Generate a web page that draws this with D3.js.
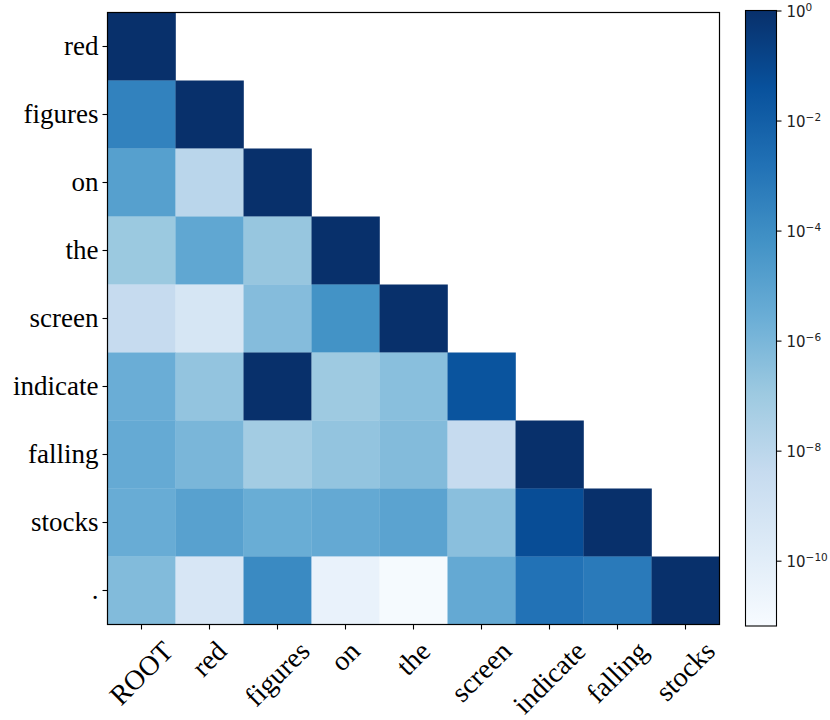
<!DOCTYPE html>
<html>
<head>
<meta charset="utf-8">
<script src="https://cdn.jsdelivr.net/npm/d3@7"></script>
<style>
  body { margin: 0; background: #fff; }
  svg { display: block; }
</style>
</head>
<body>
<div id="chart"></div>
<script>
// words on each axis
var rowLabels = ['red', 'figures', 'on', 'the', 'screen', 'indicate', 'falling', 'stocks', '.'];
var colLabels = ['ROOT', 'red', 'figures', 'on', 'the', 'screen', 'indicate', 'falling', 'stocks'];

// one array per row (lower triangle)
var rowRed      = [0.98];
var rowFigures  = [3.0e-4, 0.98];
var rowOn       = [1.3e-5, 1.1e-8, 0.98];
var rowThe      = [1.2e-7, 6.0e-6, 1.6e-7, 0.98];
var rowScreen   = [4.1e-9, 4.8e-10, 4.9e-7, 5.9e-5, 0.98];
var rowIndicate = [2.8e-6, 2.0e-7, 0.98, 1.0e-7, 3.8e-7, 3.0e-2];
var rowFalling  = [4.1e-6, 1.0e-6, 6.8e-8, 2.1e-7, 5.6e-7, 4.1e-9, 0.98];
var rowStocks   = [3.2e-6, 1.1e-5, 3.0e-6, 4.4e-6, 8.9e-6, 3.5e-7, 5.9e-2, 0.98];
var rowPeriod   = [5.9e-7, 4.2e-10, 1.4e-4, 3.9e-11, 8.3e-12, 4.4e-6, 1.4e-3, 6.6e-4, 0.98];

var cbTicks = [1, 1e-2, 1e-4, 1e-6, 1e-8, 1e-10];
var vmin = 6.5e-12, vmax = 1;

var rows = [rowRed, rowFigures, rowOn, rowThe, rowScreen, rowIndicate, rowFalling, rowStocks, rowPeriod];
var cells = [];
rows.forEach(function(r, i) {
  r.forEach(function(v, j) { cells.push({ row: i, col: j, value: v }); });
});

// matplotlib "Blues"
var blues = ['#f7fbff', '#deebf7', '#c6dbef', '#9ecae1', '#6baed6', '#4292c6', '#2171b5', '#08519c', '#08306b'];
var tScale = d3.scaleLog().domain([vmin, vmax]).range([0, 1]).clamp(true);
var cmap = d3.scaleLinear()
  .domain(blues.map(function(d, i) { return i / 8; }))
  .range(blues)
  .interpolate(d3.interpolateRgb);
function colour(v) { return cmap(tScale(v)); }

var W = 830, H = 720;
var plotLeft = 107.5, plotTop = 12.5, plotSize = 612;

var svg = d3.select('#chart').append('svg')
  .attr('width', W)
  .attr('height', H);

var x = d3.scaleBand().domain(d3.range(colLabels.length)).range([plotLeft, plotLeft + plotSize]);
var y = d3.scaleBand().domain(d3.range(rowLabels.length)).range([plotTop, plotTop + plotSize]);

svg.append('g')
  .selectAll('rect')
  .data(cells)
  .enter().append('rect')
    .attr('x', function(d) { return x(d.col); })
    .attr('y', function(d) { return y(d.row); })
    .attr('width', x.bandwidth() + 0.3)
    .attr('height', y.bandwidth() + 0.3)
    .style('fill', function(d) { return colour(d.value); });

// frame
svg.append('rect')
  .attr('x', plotLeft).attr('y', plotTop)
  .attr('width', plotSize).attr('height', plotSize)
  .style('fill', 'none')
  .style('stroke', '#000')
  .style('stroke-width', 1.2);

// y axis
var yAxis = svg.append('g')
  .attr('transform', 'translate(' + plotLeft + ',0)')
  .call(d3.axisLeft(y).tickSize(5).tickPadding(4).tickFormat(function(i) { return rowLabels[i]; }));
yAxis.select('.domain').remove();
yAxis.selectAll('text')
  .style('font-family', 'Liberation Serif, Times New Roman, serif')
  .style('font-size', '27px')
  .style('fill', '#000')
  .attr('dy', '0.32em');
yAxis.selectAll('line').style('stroke', '#000').style('stroke-width', 1.1);

// x axis with 45 degree labels centred on the ticks
var xAxis = svg.append('g')
  .attr('transform', 'translate(0,' + (plotTop + plotSize) + ')')
  .call(d3.axisBottom(x).tickSize(5).tickFormat(''));
xAxis.select('.domain').remove();
xAxis.selectAll('line').style('stroke', '#000').style('stroke-width', 1.1);

var labelTop = plotTop + plotSize + 15;
svg.append('g')
  .selectAll('text')
  .data(colLabels)
  .enter().append('text')
    .style('font-family', 'Liberation Serif, Times New Roman, serif')
    .style('font-size', '28px')
    .style('fill', '#000')
    .attr('text-anchor', 'middle')
    .attr('dy', '0.32em')
    .text(function(d) { return d; })
    .each(function(d, i) {
      var w = this.getComputedTextLength();
      var h = 20;
      var cy = labelTop + (w + h) / (2 * Math.SQRT2);
      d3.select(this).attr('transform',
        'translate(' + (x(i) + x.bandwidth() / 2) + ',' + cy + ') rotate(-45)');
    });

// colorbar
var cbLeft = 745.5, cbW = 31, cbTop = 10.5, cbBottom = 626;
var grad = svg.append('defs').append('linearGradient')
  .attr('id', 'cbgrad')
  .attr('x1', 0).attr('y1', 1).attr('x2', 0).attr('y2', 0);
grad.selectAll('stop')
  .data(blues)
  .enter().append('stop')
    .attr('offset', function(d, i) { return (i / 8 * 100) + '%'; })
    .attr('stop-color', function(d) { return d; });

svg.append('rect')
  .attr('x', cbLeft).attr('y', cbTop)
  .attr('width', cbW).attr('height', cbBottom - cbTop)
  .style('fill', 'url(#cbgrad)')
  .style('stroke', '#000')
  .style('stroke-width', 1.1);

var cbScale = d3.scaleLog().domain([vmin, vmax]).range([cbBottom, cbTop]);
var cbAxis = svg.append('g')
  .attr('transform', 'translate(' + (cbLeft + cbW) + ',0)')
  .call(d3.axisRight(cbScale).tickValues(cbTicks).tickSize(5).tickPadding(4).tickFormat(''));
cbAxis.select('.domain').remove();
cbAxis.selectAll('line').style('stroke', '#000').style('stroke-width', 1.1);

cbAxis.selectAll('.tick').each(function(d) {
  var e = Math.round(Math.log10(d));
  var t = d3.select(this).append('text')
    .attr('x', 10)
    .attr('y', 6)
    .style('font-family', 'DejaVu Sans, sans-serif')
    .style('font-size', '15px')
    .style('fill', '#222')
    .attr('text-anchor', 'start');
  t.append('tspan').text('10');
  t.append('tspan')
    .attr('dy', '-6')
    .style('font-size', '10.5px')
    .text(e === 0 ? '0' : '\u2212' + Math.abs(e));
});
</script>
</body>
</html>
